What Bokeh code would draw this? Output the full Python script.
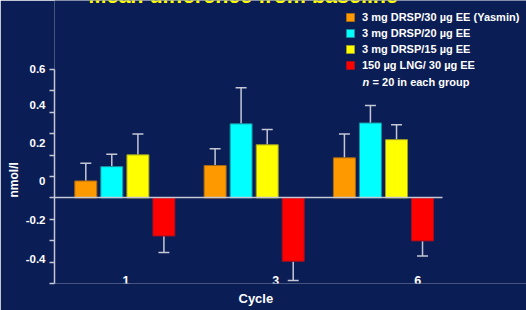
from bokeh.plotting import figure
from bokeh.models import (Range1d, LinearAxis, FixedTicker, Whisker, TeeHead,
                          Legend, LegendItem, Label, Title, ColumnDataSource)
from bokeh.embed import file_html
from bokeh.resources import INLINE

# ---------------- data ----------------
chart_title = "Mean difference from baseline"
cycles = ["1", "3", "6"]
series = ["3 mg DRSP/30 µg EE (Yasmin)", "3 mg DRSP/20 µg EE",
          "3 mg DRSP/15 µg EE", "150 µg LNG/ 30 µg EE"]
drsp30_ee30 = [0.079, 0.151, 0.187]
drsp30_ee30_err = [0.083, 0.078, 0.111]
drsp3_ee20 = [0.146, 0.346, 0.350]
drsp3_ee20_err = [0.058, 0.168, 0.081]
drsp3_ee15 = [0.201, 0.248, 0.272]
drsp3_ee15_err = [0.097, 0.071, 0.069]
lng150_ee30 = [-0.178, -0.296, -0.201]
lng150_ee30_err = [0.077, 0.090, 0.071]
y_tick_values = [-0.4, -0.3, -0.2, -0.1, 0.0, 0.1, 0.2, 0.3, 0.4, 0.5, 0.6]
y_tick_labels = ["0.6", "0.4", "0.2", "0", "-0.2", "-0.4"]
y_title = "nmol/l"
x_title = "Cycle"
note_n = "n"
note = "= 20 in each group"

# ---------------- style / layout ----------------
BG = "#0b1d55"
AX = "#c4c7d6"
FONT = "Liberation Sans"
fills = ["#ff9900", "#00ffff", "#ffff00", "#ff0000"]
edges = ["#a86a10", "#1a8c9c", "#a0a020", "#a01020"]
offsets = [-0.302, -0.101, 0.101, 0.302]
bar_w = 0.170
# the slide draws its y labels and x labels slightly off the tick grid
y_label_pos = [0.600, 0.434, 0.257, 0.079, -0.103, -0.285]
x_label_pos = [0.009, 1.166, 2.264]

p = figure(width=526, height=310, output_backend="svg", toolbar_location=None,
           x_range=Range1d(-0.544, 3.106), y_range=Range1d(-0.40, 0.922),
           background_fill_color=BG, border_fill_color=BG, outline_line_color=None,
           min_border_left=54, min_border_right=0, min_border_top=0, min_border_bottom=27,
           x_axis_location=None, y_axis_location=None)
p.xgrid.visible = False
p.ygrid.visible = False

groups = list(range(len(cycles)))
means = [drsp30_ee30, drsp3_ee20, drsp3_ee15, lng150_ee30]
errs = [drsp30_ee30_err, drsp3_ee20_err, drsp3_ee15_err, lng150_ee30_err]

renderers = []
for i in range(4):
    xs = [g + offsets[i] for g in groups]
    m = means[i]
    e = errs[i]
    src = ColumnDataSource(dict(x=xs, top=m,
                                lo=[v if v >= 0 else v - d for v, d in zip(m, e)],
                                hi=[v + d if v >= 0 else v for v, d in zip(m, e)]))
    neg = m[0] < 0
    w = Whisker(source=src, base="x", lower="lo", upper="hi", line_color=AX, line_width=1.5,
                upper_head=None if neg else TeeHead(size=11, line_color=AX, line_width=1.5),
                lower_head=TeeHead(size=11, line_color=AX, line_width=1.5) if neg else None,
                level="underlay")
    p.add_layout(w)
    r = p.vbar(x="x", top="top", bottom=0, width=bar_w, source=src,
               fill_color=fills[i], line_color=edges[i], line_width=1)
    renderers.append(r)

# zero line (axis at y = 0, limited to the plotted span)
zero_ax = LinearAxis(ticker=FixedTicker(ticks=[]), fixed_location=0, bounds=(-0.544, 2.457),
                     axis_line_color=AX, axis_line_width=1.5,
                     major_tick_line_color=None, minor_tick_line_color=None)
p.add_layout(zero_ax, "below")

# y axis: tick marks every 0.1 (minor), slide labels (major)
yax = LinearAxis(ticker=FixedTicker(ticks=y_label_pos, minor_ticks=y_tick_values),
                 bounds=(-0.4, 0.6),
                 major_label_overrides={v: t for v, t in zip(y_label_pos, y_tick_labels)},
                 axis_line_color=AX, axis_line_width=1.5,
                 major_tick_line_color=None, major_tick_out=0, major_tick_in=0,
                 minor_tick_line_color=AX, minor_tick_line_width=1.5,
                 minor_tick_out=5, minor_tick_in=0, major_label_standoff=4,
                 major_label_text_color="white", major_label_text_font=FONT,
                 major_label_text_font_style="bold", major_label_text_font_size="11.5px")
p.add_layout(yax, "left")
p.add_layout(Title(text=y_title, align="left", offset=86, standoff=4,
                   text_color="white", text_font=FONT, text_font_style="bold",
                   text_font_size="12px"), "left")

# x tick labels
xax = LinearAxis(ticker=FixedTicker(ticks=x_label_pos), fixed_location=-0.356,
                 major_label_overrides={v: t for v, t in zip(x_label_pos, cycles)},
                 axis_line_color=None, major_tick_line_color=None, minor_tick_line_color=None,
                 major_tick_out=0, major_tick_in=0, major_label_standoff=2,
                 major_label_text_color="white", major_label_text_font=FONT,
                 major_label_text_font_style="bold", major_label_text_font_size="12.5px")
p.add_layout(xax, "below")
p.add_layout(Title(text=x_title, align="left", offset=184, standoff=10,
                   text_color="white", text_font=FONT, text_font_style="bold",
                   text_font_size="13px"), "below")

legend = Legend(items=[LegendItem(label=s, renderers=[r]) for s, r in zip(series, renderers)],
                location=(291, 210), orientation="vertical",
                background_fill_alpha=0, border_line_color=None,
                padding=0, margin=0, spacing=0, label_height=16, label_standoff=7,
                glyph_width=10, glyph_height=10,
                label_text_color="white", label_text_font=FONT,
                label_text_font_style="bold", label_text_font_size="11px")
p.add_layout(legend, "center")

p.add_layout(Label(x=1.838, y=0.539, text=note_n, text_color="white", text_font=FONT,
                   text_font_style="bold italic", text_font_size="11px",
                   text_baseline="middle"))
p.add_layout(Label(x=1.838, y=0.539, x_offset=10, text=note, text_color="white",
                   text_font=FONT, text_font_style="bold", text_font_size="11px",
                   text_baseline="middle"))

# slide title: as in the reference, only its lower edge is inside the picture
p.add_layout(Label(x=-0.281, y=0.941, text=chart_title, text_color="#ffff00",
                   text_font=FONT, text_font_style="bold", text_font_size="21.5px",
                   text_baseline="alphabetic"))

open("out.html", "w").write(file_html(p, INLINE))
